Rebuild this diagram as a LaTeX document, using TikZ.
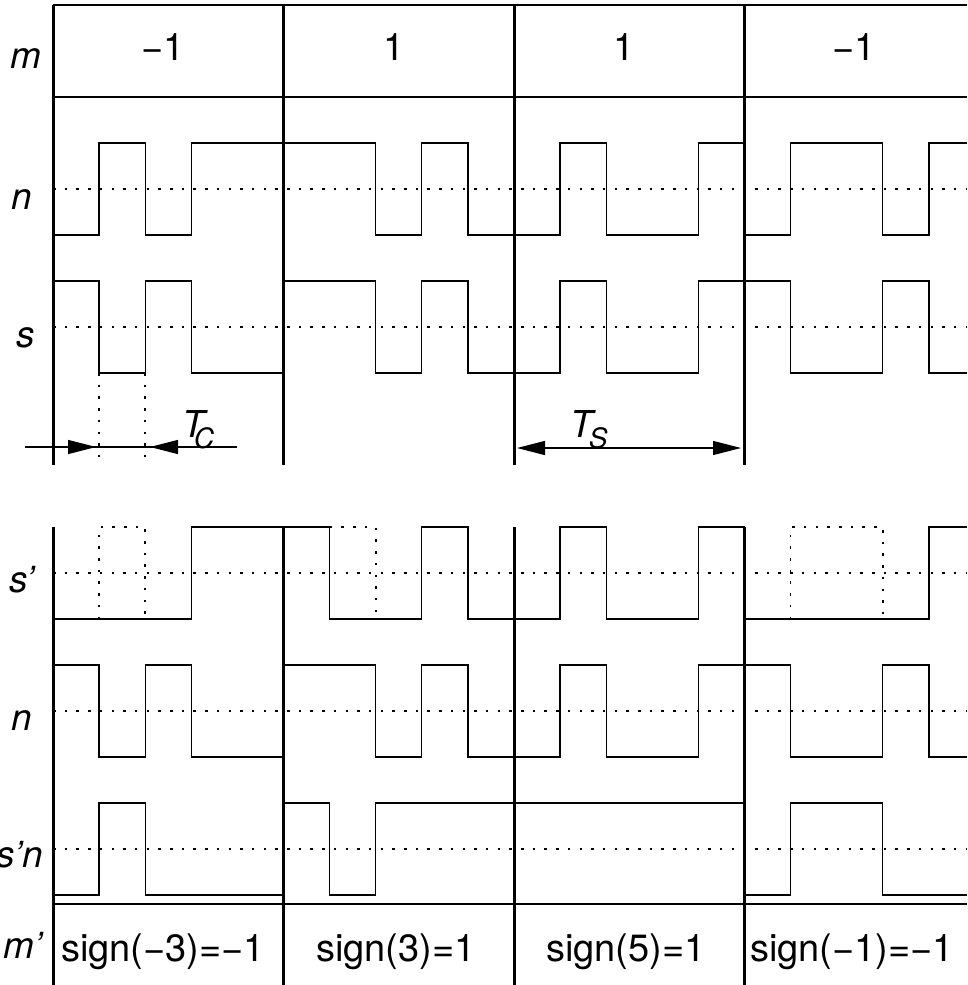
\documentclass[tikz,border=0pt]{standalone}
\usepackage{fontspec}
\setmainfont{TeX Gyre Heros}
\usetikzlibrary{arrows.meta}
\tikzset{
  bar/.style={line width=3pt},
  wave/.style={line width=1.3pt, line join=miter},
  dots/.style={line width=1.6pt, dash pattern=on 2.5pt off 9.2pt},
  lbl/.style={font=\fontsize{37}{44}\selectfont\itshape, inner sep=0pt},
  num/.style={font=\fontsize{38}{45}\selectfont, inner sep=0pt},
  tipend/.style={-{Triangle[length=28pt,width=14pt]}},
  tipboth/.style={{Triangle[length=28pt,width=14pt]}-{Triangle[length=28pt,width=14pt]}},
}
\begin{document}
\begin{tikzpicture}[x=1pt,y=-1pt]
\useasboundingbox (0,0) rectangle (967,985);
\begin{scope}[xshift=53pt, x=46.1pt]
  % m row frame
  \draw[wave] (0,5) -- (19.83,5);
  \draw[wave] (0,97) -- (19.83,97);
  % dotted zero lines
  \foreach \y in {189,327,573,711,849} \draw[dots] (0,\y) -- (19.83,\y);
  % n (top)
  \draw[wave] (0,235) -| (1,143) -| (2,235) -| (3,143) -| (7,235) -| (8,143) -| (9,235) -| (11,143) -| (12,235) -| (14,143) -| (15,235) -| (16,143) -| (18,235) -| (19,143) -- (19.83,143);
  % s (top)
  \draw[wave] (0,281) -| (1,373) -| (2,281) -| (3,373) -| (5,281) -| (7,373) -| (8,281) -| (9,373) -| (11,281) -| (12,373) -| (14,281) -| (16,373) -| (18,281) -| (19,373) -- (19.83,373);
  % chip markers
  \draw[dots] (1,373) -- (1,465);
  \draw[dots] (2,373) -- (2,465);
  % s' (bottom)
  \draw[wave] (0,619) -| (3,527) -| (6,619) -| (8,527) -| (9,619) -| (11,527) -| (12,619) -| (14,527) -| (15,619) -| (19,527) -- (19.83,527);
  \draw[dots] (1,619) -- (1,527) -- (2,527) -- (2,619);
  \draw[dots] (6,527) -- (7,527) -- (7,619);
  \draw[dots] (16,619) -- (16,527) -- (18,527) -- (18,619);
  % n (bottom)
  \draw[wave] (0,665) -| (1,757) -| (2,665) -| (3,757) -| (5,665) -| (7,757) -| (8,665) -| (9,757) -| (11,665) -| (12,757) -| (14,665) -| (16,757) -| (18,665) -| (19,757) -- (19.83,757);
  % s'n
  \draw[wave] (0,895) -| (1,803) -| (2,895) -| (5,803) -| (6,895) -| (7,803) -| (15,895) -| (16,803) -| (18,895) -- (19.83,895);
  % separator
  \draw[wave] (0,904) -- (19.83,904);
  % symbol bars
  \foreach \k in {0,5,10,15} {
    \draw[bar] (\k,5) -- (\k,465);
    \draw[bar] (\k,527) -- (\k,985);
  }
\end{scope}
% symbol values
\node[num, anchor=base] (m1) at (163,60) {−1};
\node[num, anchor=base] (m2) at (394,60) {1};
\node[num, anchor=base] (m3) at (624,60) {1};
\node[num, anchor=base] (m4) at (854,60) {−1};
% row labels
\node[lbl, anchor=base] (lm) at (26,68) {m};
\node[lbl, anchor=base] (ln) at (22,209) {n};
\node[lbl, anchor=base] (ls) at (26,347) {s};
\node[lbl, anchor=base] (lsp) at (22,592) {s’};
\node[lbl, anchor=base] (ln2) at (22,730) {n};
\node[lbl, anchor=base east] (lsn) at (43,867) {s’n};
\node[lbl, anchor=base east] (lmp) at (43,958) {m’};
% decisions
\node[num, anchor=base west] (d1) at (61,961) {sign(−3)=−1};
\node[num, anchor=base] (d2) at (396,961) {sign(3)=1};
\node[num, anchor=base] (d3) at (626,961) {sign(5)=1};
\node[num, anchor=base west] (d4) at (750,961) {sign(−1)=−1};
% Tc arrows
\coordinate (tcL) at (25,447);
\coordinate (tcR) at (237,447);
\coordinate (tcA) at (96,447);
\coordinate (tcB) at (150,447);
\draw[wave] (tcL) -- (tcR);
\draw[wave, tipend] (tcL) -- (tcA);
\draw[wave, tipend] (tcR) -- (tcB);
\node[lbl, anchor=base west] (tc) at (182,437) {T\kern-11pt\raisebox{-11pt}{\fontsize{28}{28}\selectfont C}};
% Ts arrow
\coordinate (tsL) at (517,448);
\coordinate (tsR) at (741,448);
\draw[wave, tipboth] (tsL) -- (tsR);
\node[lbl, anchor=base west] (ts) at (570,437) {T\kern-4pt\raisebox{-11pt}{\fontsize{28}{28}\selectfont S}};
\end{tikzpicture}
\end{document}
